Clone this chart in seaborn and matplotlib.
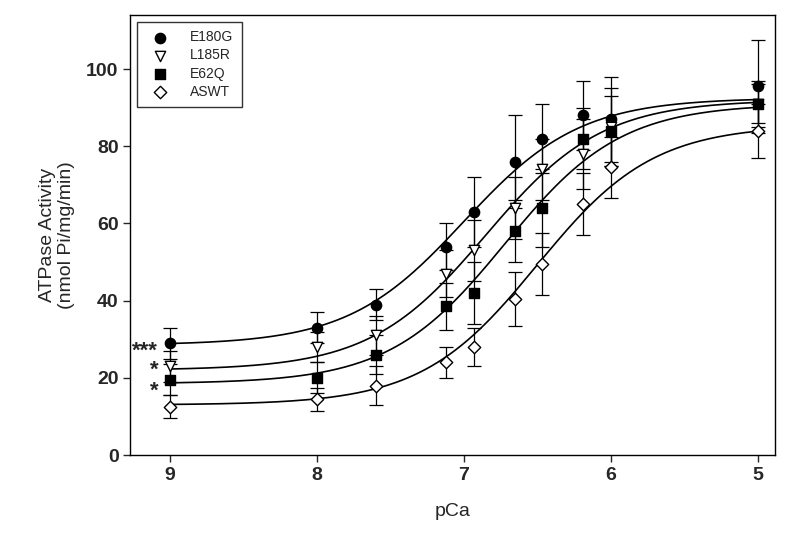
import numpy as np
import matplotlib
matplotlib.use("Agg")
import matplotlib.pyplot as plt
import seaborn as sns
import pandas as pd

pca = [9.0, 8.0, 7.6, 7.12, 6.93, 6.65, 6.47, 6.19, 6.0, 5.0]
series = ["E180G", "L185R", "E62Q", "ASWT"]
vals = {
    "E180G": [29, 33, 39, 54, 63, 76, 82, 88, 87, 95.5],
    "L185R": [23, 28, 31, 47, 53, 64, 74, 78, 85, 91],
    "E62Q": [19.5, 20, 26, 38.5, 42, 58, 64, 82, 84, 91],
    "ASWT": [12.5, 14.5, 18, 24, 28, 40.5, 49.5, 65, 74.5, 84],
}
errs = {
    "E180G": [4, 4, 4, 6, 9, 12, 9, 9, 11, 12],
    "L185R": [4, 4, 5, 6, 8, 8, 8, 9, 10, 6],
    "E62Q": [4, 4, 5, 6, 8, 8, 10, 8, 9, 5],
    "ASWT": [3, 3, 5, 4, 5, 7, 8, 8, 8, 7],
}
# Hill fit parameters: min, max, pCa50, n
fits = {
    "E180G": (28.5, 92.5, 7.0, 1.1),
    "L185R": (22, 92, 6.85, 1.1),
    "E62Q": (18.5, 91, 6.72, 1.1),
    "ASWT": (13, 85.5, 6.5, 1.1),
}
markers = {"E180G": ("o", "black"), "L185R": ("v", "white"), "E62Q": ("s", "black"), "ASWT": ("D", "white")}
stars = [("***", 28.5), ("*", 23.5), ("*", 18.0)]

sns.set_style("white")
plt.rcParams['font.family'] = ['Liberation Sans', 'DejaVu Sans']
fig, ax = plt.subplots(figsize=(8, 5.55), dpi=100)
fig.subplots_adjust(left=0.163, right=0.969, bottom=0.18, top=0.973)

rows = []
for s in series:
    for x, v in zip(pca, vals[s]):
        rows.append({"pCa": x, "val": v, "series": s})
df = pd.DataFrame(rows)

xs = np.linspace(9.0, 5.0, 300)
for s in series:
    lo, hi, p50, n = fits[s]
    y = lo + (hi - lo) / (1 + 10 ** (n * (xs - p50)))
    sns.lineplot(x=xs, y=y, ax=ax, color="black", lw=1.2, legend=False)
    ax.errorbar(pca, vals[s], yerr=errs[s], fmt="none", ecolor="black", elinewidth=0.9, capsize=5, capthick=0.9)
for s in series:
    m, fc = markers[s]
    sub = df[df.series == s]
    ax.scatter(sub.pCa, sub.val, marker=m, s=55 if m != "D" else 40, facecolor=fc,
               edgecolor="black", linewidth=1, zorder=5, label=s)

ax.set_xlim(9.27, 4.88)
ax.set_ylim(0, 114)
ax.set_xticks([9, 8, 7, 6, 5])
ax.set_yticks([0, 20, 40, 60, 80, 100])
for lab in ax.get_xticklabels() + ax.get_yticklabels():
    lab.set_fontweight("bold")
    lab.set_fontsize(14)
ax.tick_params(direction="out", length=5, width=1, left=True, bottom=True)
for sp in ax.spines.values():
    sp.set_color("black"); sp.set_linewidth(1)
ax.set_xlabel("pCa", fontsize=14, labelpad=14)
ax.set_ylabel("ATPase Activity\n(nmol Pi/mg/min)", fontsize=14, labelpad=8)

for txt, yv in stars:
    ax.text(9.08, yv - 1.5, txt, ha="right", va="center", fontsize=16, fontweight="bold")

ax.legend(loc="upper left", frameon=True, fontsize=10, edgecolor="black", fancybox=False,
          borderpad=0.6, labelspacing=0.3, handletextpad=1.2)
fig.savefig("out.png")
